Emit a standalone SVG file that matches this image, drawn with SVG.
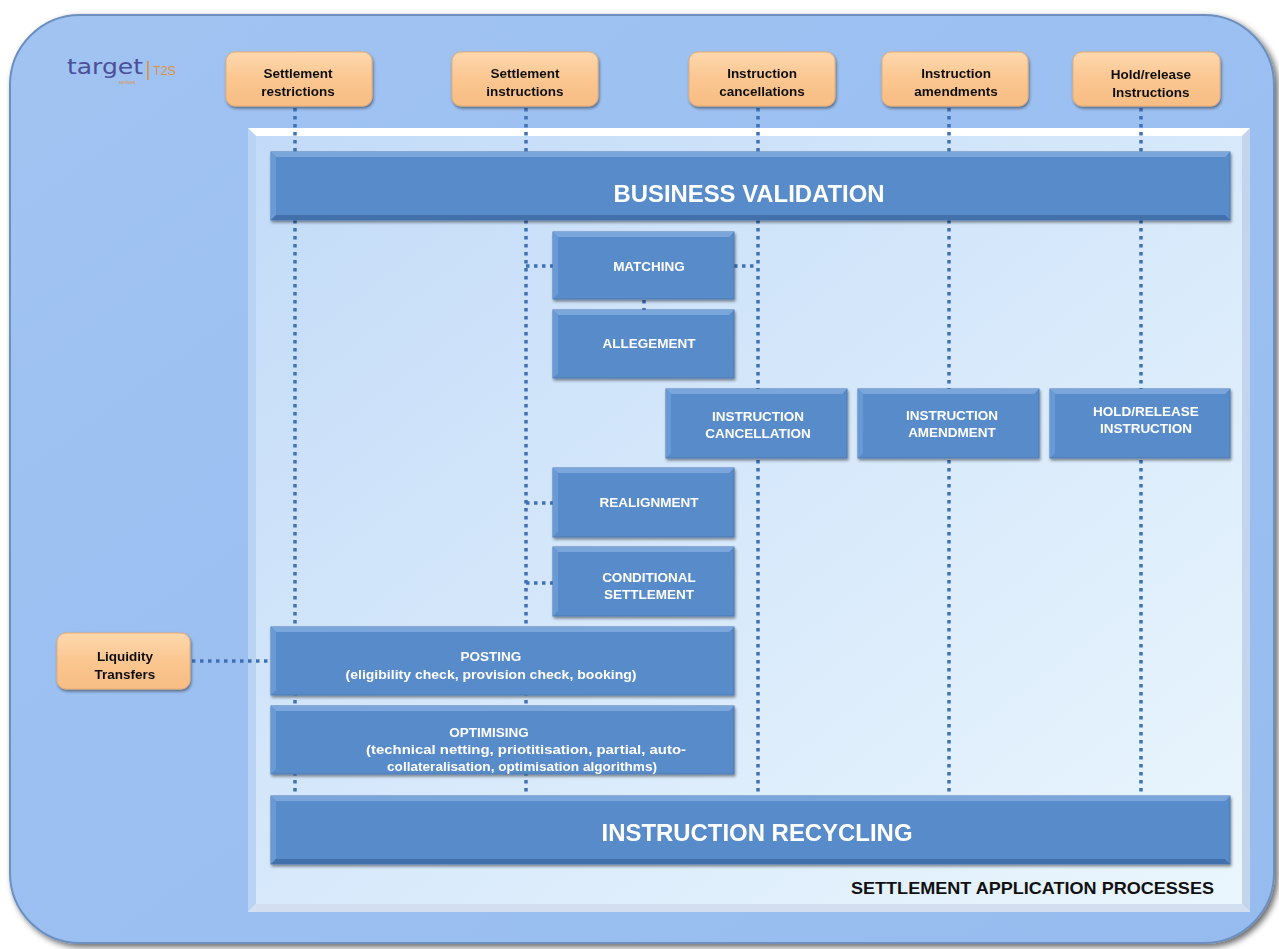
<svg xmlns="http://www.w3.org/2000/svg" width="1279" height="949" viewBox="0 0 1279 949">
<defs>
<linearGradient id="frameG" x1="0" y1="0" x2="1" y2="1">
<stop offset="0" stop-color="#a0c3f2"/>
<stop offset="1" stop-color="#96bcef"/>
</linearGradient>
<linearGradient id="panelG" x1="0" y1="0" x2="1" y2="1">
<stop offset="0" stop-color="#c3dbf8"/>
<stop offset="1" stop-color="#eaf6fd"/>
</linearGradient>
<linearGradient id="orG" x1="0" y1="0" x2="0" y2="1">
<stop offset="0" stop-color="#fdd8ae"/>
<stop offset="0.5" stop-color="#fbc690"/>
<stop offset="1" stop-color="#f7bd84"/>
</linearGradient>
<filter id="sh" x="-10%" y="-20%" width="120%" height="150%">
<feGaussianBlur in="SourceAlpha" stdDeviation="1.5"/>
<feOffset dx="1" dy="2" result="b"/>
<feComponentTransfer><feFuncA type="linear" slope="0.45"/></feComponentTransfer>
<feMerge><feMergeNode/><feMergeNode in="SourceGraphic"/></feMerge>
</filter>
<filter id="fsh" x="-5%" y="-5%" width="110%" height="110%">
<feGaussianBlur in="SourceAlpha" stdDeviation="3"/>
<feOffset dx="3" dy="3"/>
<feComponentTransfer><feFuncA type="linear" slope="0.6"/></feComponentTransfer>
<feMerge><feMergeNode/><feMergeNode in="SourceGraphic"/></feMerge>
</filter>
</defs>
<style>
.bar{fill:#588bca;stroke:#4a78b3;stroke-width:1}
.hl{fill:#7aa6dc}
.hs{fill:#6b9ad6}
.dk{fill:#4270aa}
.org{fill:url(#orG);stroke:#e9ad72;stroke-width:1}
.bt{font-family:"Liberation Sans",Arial,sans-serif;font-weight:bold;fill:#ffffff;text-anchor:middle}
.ot{font-family:"Liberation Sans",Arial,sans-serif;font-weight:bold;fill:#111111;text-anchor:middle;font-size:13.5px}
.dot{stroke:#3f72b5;stroke-width:3.5;stroke-dasharray:3.5 4.5;fill:none}
</style>
<rect width="1279" height="949" fill="#ffffff"/>
<!-- outer frame -->
<g id="frame">
<rect x="10" y="15" width="1264" height="928" rx="70" ry="70" fill="url(#frameG)" stroke="#6c8fbf" stroke-width="2" filter="url(#fsh)"/>
</g>
<!-- logo -->
<g id="logo">
<text x="67" y="74" font-family="'DejaVu Sans',sans-serif" font-size="21" fill="#4b4f98" textLength="76" lengthAdjust="spacingAndGlyphs">target</text>
<text x="119" y="84" font-family="'Liberation Sans',sans-serif" font-size="4.5" fill="#e0913b">services</text>
<rect x="147" y="61" width="1.6" height="19" fill="#e0913b"/>
<text x="153" y="75" font-family="'Liberation Sans',sans-serif" font-size="12.5" fill="#e0913b">T2S</text>
</g>
<!-- inner panel -->
<g id="panel">
<rect x="248" y="128" width="1002" height="784" fill="url(#panelG)"/>
<polygon points="248,128 1250,128 1242,136 256,136" fill="#ffffff"/>
<polygon points="248,128 256,136 256,904 248,912" fill="#b9d3f4"/>
<polygon points="1250,128 1250,912 1242,904 1242,136" fill="#c4d4ec"/>
<polygon points="248,912 1250,912 1242,904 256,904" fill="#d3dff0"/>
<rect x="256" y="136" width="986" height="768" fill="url(#panelG)"/>
</g>
<!-- connectors -->
<g id="connectors">
<line class="dot" x1="295" y1="108" x2="295" y2="796"/>
<line class="dot" x1="526" y1="108" x2="526" y2="796"/>
<line class="dot" x1="758" y1="108" x2="758" y2="796"/>
<line class="dot" x1="949" y1="108" x2="949" y2="796"/>
<line class="dot" x1="1141" y1="108" x2="1141" y2="796"/>
<line class="dot" x1="526" y1="266" x2="553" y2="266"/>
<line class="dot" x1="734" y1="266" x2="758" y2="266"/>
<line class="dot" x1="644" y1="300" x2="644" y2="310"/>
<line class="dot" x1="526" y1="503" x2="553" y2="503"/>
<line class="dot" x1="526" y1="583" x2="553" y2="583"/>
<line class="dot" x1="192" y1="661" x2="271" y2="661"/>
</g>
<!-- top input nodes -->
<g id="n-settlement-restrictions" filter="url(#sh)">
<rect class="org" x="226" y="52" width="146" height="54" rx="9"/>
<text class="ot" x="298" y="78">Settlement</text>
<text class="ot" x="298" y="96">restrictions</text>
</g>
<g id="n-settlement-instructions" filter="url(#sh)">
<rect class="org" x="452" y="52" width="146" height="54" rx="9"/>
<text class="ot" x="525" y="78">Settlement</text>
<text class="ot" x="525" y="96">instructions</text>
</g>
<g id="n-instruction-cancellations" filter="url(#sh)">
<rect class="org" x="689" y="52" width="146" height="54" rx="9"/>
<text class="ot" x="762" y="78">Instruction</text>
<text class="ot" x="762" y="96">cancellations</text>
</g>
<g id="n-instruction-amendments" filter="url(#sh)">
<rect class="org" x="882" y="52" width="146" height="54" rx="9"/>
<text class="ot" x="956" y="78">Instruction</text>
<text class="ot" x="956" y="96">amendments</text>
</g>
<g id="n-hold-release" filter="url(#sh)">
<rect class="org" x="1073" y="52" width="147" height="54" rx="9"/>
<text class="ot" x="1151" y="79">Hold/release</text>
<text class="ot" x="1151" y="97">Instructions</text>
</g>
<g id="n-liquidity-transfers" filter="url(#sh)">
<rect class="org" x="57" y="633" width="133" height="56" rx="9"/>
<text class="ot" x="125" y="661">Liquidity</text>
<text class="ot" x="125" y="679">Transfers</text>
</g>
<!-- process bars -->
<g id="n-business-validation" filter="url(#sh)">
<rect class="bar" x="271" y="152" width="959" height="68"/>
<polygon class="hl" points="271,152 1230,152 1225,157 276,157"/>
<polygon class="hs" points="271,152 276,157 276,215 271,220"/>
<polygon class="dk" points="271,220 1230,220 1225,215 276,215"/>
<text class="bt" x="749" y="202" font-size="23" textLength="271" lengthAdjust="spacingAndGlyphs">BUSINESS VALIDATION</text>
</g>
<g id="n-matching" filter="url(#sh)">
<rect class="bar" x="553" y="232" width="181" height="67"/>
<polygon class="hl" points="553,232 734,232 729,237 558,237"/>
<polygon class="hs" points="553,232 558,237 558,294 553,299"/>
<text class="bt" x="649" y="271" font-size="13.5">MATCHING</text>
</g>
<g id="n-allegement" filter="url(#sh)">
<rect class="bar" x="553" y="310" width="181" height="68"/>
<polygon class="hl" points="553,310 734,310 729,315 558,315"/>
<polygon class="hs" points="553,310 558,315 558,373 553,378"/>
<text class="bt" x="649" y="348" font-size="13.5">ALLEGEMENT</text>
</g>
<g id="n-instruction-cancellation" filter="url(#sh)">
<rect class="bar" x="666" y="389" width="181" height="69"/>
<polygon class="hl" points="666,389 847,389 842,394 671,394"/>
<polygon class="hs" points="666,389 671,394 671,453 666,458"/>
<text class="bt" x="758" y="421" font-size="13.5">INSTRUCTION</text>
<text class="bt" x="758" y="438" font-size="13.5">CANCELLATION</text>
</g>
<g id="n-instruction-amendment" filter="url(#sh)">
<rect class="bar" x="858" y="389" width="181" height="69"/>
<polygon class="hl" points="858,389 1039,389 1034,394 863,394"/>
<polygon class="hs" points="858,389 863,394 863,453 858,458"/>
<text class="bt" x="952" y="420" font-size="13.5">INSTRUCTION</text>
<text class="bt" x="952" y="437" font-size="13.5">AMENDMENT</text>
</g>
<g id="n-hold-release-instruction" filter="url(#sh)">
<rect class="bar" x="1050" y="389" width="180" height="69"/>
<polygon class="hl" points="1050,389 1230,389 1225,394 1055,394"/>
<polygon class="hs" points="1050,389 1055,394 1055,453 1050,458"/>
<text class="bt" x="1146" y="416" font-size="13.5">HOLD/RELEASE</text>
<text class="bt" x="1146" y="433" font-size="13.5">INSTRUCTION</text>
</g>
<g id="n-realignment" filter="url(#sh)">
<rect class="bar" x="553" y="468" width="181" height="69"/>
<polygon class="hl" points="553,468 734,468 729,473 558,473"/>
<polygon class="hs" points="553,468 558,473 558,532 553,537"/>
<text class="bt" x="649" y="507" font-size="13.5">REALIGNMENT</text>
</g>
<g id="n-conditional-settlement" filter="url(#sh)">
<rect class="bar" x="553" y="547" width="181" height="69"/>
<polygon class="hl" points="553,547 734,547 729,552 558,552"/>
<polygon class="hs" points="553,547 558,552 558,611 553,616"/>
<text class="bt" x="649" y="582" font-size="13.5">CONDITIONAL</text>
<text class="bt" x="649" y="599" font-size="13.5">SETTLEMENT</text>
</g>
<g id="n-posting" filter="url(#sh)">
<rect class="bar" x="271" y="627" width="463" height="68"/>
<polygon class="hl" points="271,627 734,627 729,632 276,632"/>
<polygon class="hs" points="271,627 276,632 276,690 271,695"/>
<text class="bt" x="491" y="661" font-size="13.5">POSTING</text>
<text class="bt" x="491" y="679" font-size="13.5" textLength="291" lengthAdjust="spacingAndGlyphs">(eligibility check, provision check, booking)</text>
</g>
<g id="n-optimising" filter="url(#sh)">
<rect class="bar" x="271" y="706" width="463" height="68"/>
<polygon class="hl" points="271,706 734,706 729,711 276,711"/>
<polygon class="hs" points="271,706 276,711 276,769 271,774"/>
<text class="bt" x="489" y="737" font-size="13.5">OPTIMISING</text>
<text class="bt" x="526" y="754" font-size="13.5" textLength="320" lengthAdjust="spacingAndGlyphs">(technical netting, priotitisation, partial, auto-</text>
<text class="bt" x="522" y="771" font-size="13.5" textLength="270" lengthAdjust="spacingAndGlyphs">collateralisation, optimisation algorithms)</text>
</g>
<g id="n-instruction-recycling" filter="url(#sh)">
<rect class="bar" x="271" y="796" width="959" height="68"/>
<polygon class="hl" points="271,796 1230,796 1225,801 276,801"/>
<polygon class="hs" points="271,796 276,801 276,859 271,864"/>
<polygon class="dk" points="271,864 1230,864 1225,859 276,859"/>
<text class="bt" x="757" y="841" font-size="23" textLength="311" lengthAdjust="spacingAndGlyphs">INSTRUCTION RECYCLING</text>
</g>
<text x="1214" y="894" font-family="'Liberation Sans',Arial,sans-serif" font-weight="bold" font-size="16.5" fill="#111111" text-anchor="end" textLength="363" lengthAdjust="spacingAndGlyphs">SETTLEMENT APPLICATION PROCESSES</text>
</svg>
